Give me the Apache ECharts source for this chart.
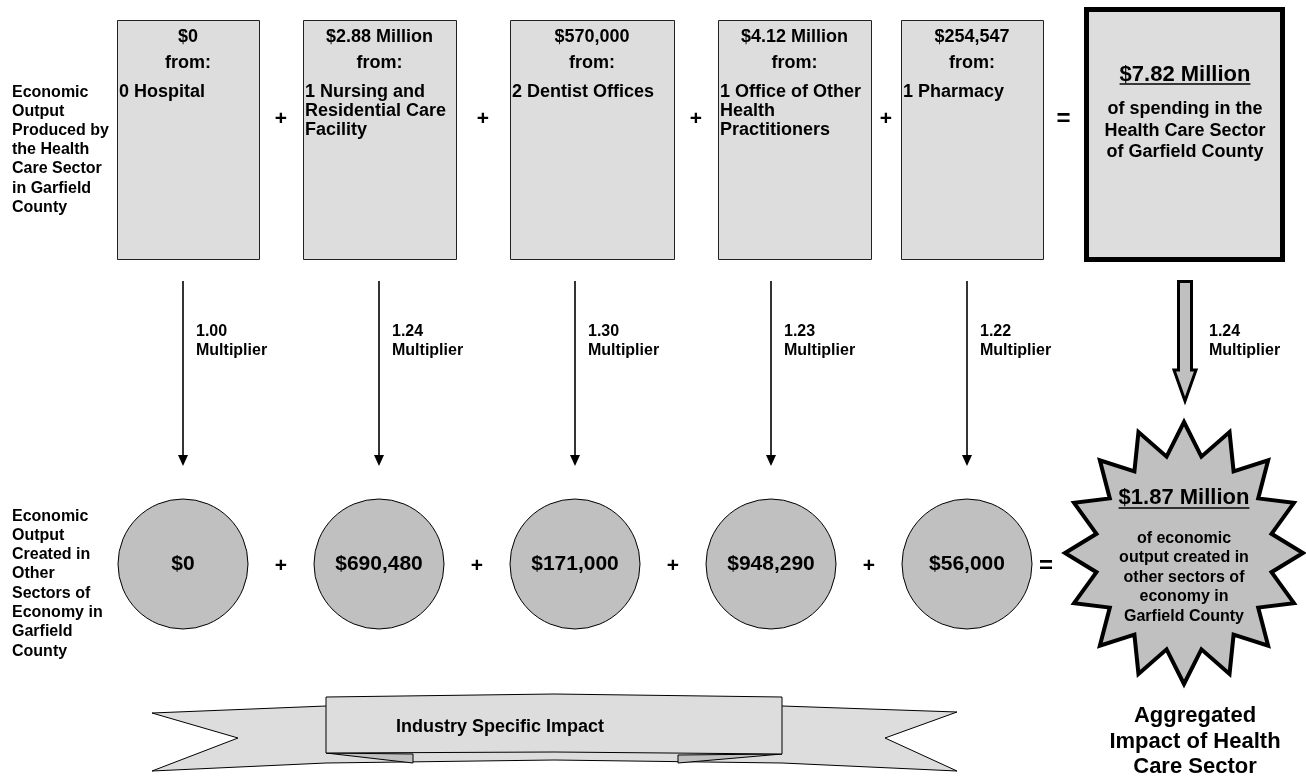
<!DOCTYPE html>
<html>
<head>
<meta charset="utf-8">
<script src="https://cdn.jsdelivr.net/npm/echarts@6/dist/echarts.min.js"></script>
<style>
  html, body { margin: 0; padding: 0; background: #fff; }
  #chart { width: 1306px; height: 776px; }
</style>
</head>
<body>
<div id="chart"></div>
<script>
// data
const sectors = ['0 Hospital', '1 Nursing and\nResidential Care\nFacility', '2 Dentist Offices', '1 Office of Other\nHealth\nPractitioners', '1 Pharmacy'];
const directOutput = ['$0', '$2.88 Million', '$570,000', '$4.12 Million', '$254,547'];
const multipliers = ['1.00', '1.24', '1.30', '1.23', '1.22'];
const createdOutput = ['$0', '$690,480', '$171,000', '$948,290', '$56,000'];
const totalOutput = '$7.82 Million';
const totalMultiplier = '1.24';
const totalCreated = '$1.87 Million';

// layout of the boxes (offset of left edge from column centre, width)
const boxOffset = [-66, -76, -65, -53, -66];
const boxWidth = [142, 153, 164, 153, 142];

const FF = '"Liberation Sans", Arial, sans-serif';
const f = (size) => 'bold ' + size + 'px ' + FF;
const BOX_FILL = '#dddddd';
const DARK_FILL = '#c0c0c0';

const measure = (() => {
  const ctx = document.createElement('canvas').getContext('2d');
  return (text, font) => { ctx.font = font; return ctx.measureText(text).width; };
})();

const chart = echarts.init(document.getElementById('chart'));

// total column
const TX = 1184;
const starCy = 553, starRx = 119, starRy = 131, starInner = 0.75;
const starPts = [];
for (let k = 0; k < 32; k++) {
  const a = Math.PI * k / 16;
  const r = k % 2 === 0 ? 1 : starInner;
  starPts.push([TX + starRx * r * Math.sin(a), starCy - starRy * r * Math.cos(a)]);
}

function underline(cx, y, text, font) {
  const w = measure(text, font);
  return { type: 'line', shape: { x1: cx - w / 2, y1: y, x2: cx + w / 2, y2: y }, style: { stroke: '#000', lineWidth: 1.5 } };
}

const graphics = [
  { type: 'text', style: { text: 'Economic\nOutput\nProduced by\nthe Health\nCare Sector\nin Garfield\nCounty', x: 12, y: 82.5, font: f(16), lineHeight: 19.2, fill: '#000', verticalAlign: 'top' } },
  { type: 'text', style: { text: 'Economic\nOutput\nCreated in\nOther\nSectors of\nEconomy in\nGarfield\nCounty', x: 12, y: 506.5, font: f(16), lineHeight: 19.3, fill: '#000', verticalAlign: 'top' } },
  // total box
  { type: 'rect', shape: { x: 1086.5, y: 9.5, width: 196, height: 250 }, style: { fill: BOX_FILL, stroke: '#000', lineWidth: 5 } },
  { type: 'text', style: { text: totalOutput, x: 1185, y: 75, font: f(22), fill: '#000', align: 'center', verticalAlign: 'middle' } },
  underline(1185, 84, totalOutput, f(22)),
  { type: 'text', style: { text: 'of spending in the\nHealth Care Sector\nof Garfield County', x: 1185, y: 98.5, font: f(18), lineHeight: 21.5, fill: '#000', align: 'center', verticalAlign: 'top' } },
  // big arrow
  { type: 'polygon', shape: { points: [[1178.5, 281.5], [1191.5, 281.5], [1191.5, 370], [1196, 370], [1185, 401], [1174, 370], [1178.5, 370]] }, style: { fill: DARK_FILL, stroke: '#000', lineWidth: 3, lineJoin: 'miter' } },
  { type: 'text', style: { text: totalMultiplier + '\nMultiplier', x: 1209, y: 322.5, font: f(16), lineHeight: 19, fill: '#000', verticalAlign: 'top' } },
  // starburst
  { type: 'polygon', shape: { points: starPts }, style: { fill: DARK_FILL, stroke: '#000', lineWidth: 4, lineJoin: 'miter', miterLimit: 10 } },
  { type: 'text', style: { text: totalCreated, x: TX, y: 498, font: f(22), fill: '#000', align: 'center', verticalAlign: 'middle' } },
  underline(TX, 508, totalCreated, f(22)),
  { type: 'text', style: { text: 'of economic\noutput created in\nother sectors of\neconomy in\nGarfield County', x: TX, y: 528.5, font: f(16), lineHeight: 19.5, fill: '#000', align: 'center', verticalAlign: 'top' } },
  { type: 'text', style: { text: 'Aggregated\nImpact of Health\nCare Sector', x: 1195, y: 703.5, font: f(22), lineHeight: 25.5, fill: '#000', align: 'center', verticalAlign: 'top' } },
  // banner
  { type: 'polygon', shape: { points: [[152, 713], [326, 706], [554, 703], [782, 706], [957, 712], [885, 738], [957, 771], [782, 763], [554, 760], [326, 763], [152, 771], [238, 738]] }, style: { fill: BOX_FILL, stroke: '#000', lineWidth: 1 } },
  { type: 'polygon', shape: { points: [[326, 753], [413, 754], [413, 763]] }, style: { fill: DARK_FILL, stroke: '#000', lineWidth: 1 } },
  { type: 'polygon', shape: { points: [[782, 754], [678, 755], [678, 763]] }, style: { fill: DARK_FILL, stroke: '#000', lineWidth: 1 } },
  { type: 'polygon', shape: { points: [[326, 697], [554, 694], [782, 697], [782, 754], [554, 752], [326, 753]] }, style: { fill: BOX_FILL, stroke: '#000', lineWidth: 1 } },
  { type: 'text', style: { text: 'Industry Specific Impact', x: 500, y: 727, font: f(18), fill: '#000', align: 'center', verticalAlign: 'middle' } }
];

function renderSector(params, api) {
  const i = api.value(0);
  const cx = api.coord([i, 0])[0];
  const left = cx + boxOffset[i];
  const w = boxWidth[i];
  const bc = left + w / 2;
  const children = [
    { type: 'rect', shape: { x: left + 0.5, y: 20.5, width: w, height: 239 }, style: { fill: BOX_FILL, stroke: '#222', lineWidth: 1 } },
    { type: 'text', style: { text: directOutput[i], x: bc, y: 37, font: f(18), fill: '#000', align: 'center', verticalAlign: 'middle' } },
    { type: 'text', style: { text: 'from:', x: bc, y: 63, font: f(18), fill: '#000', align: 'center', verticalAlign: 'middle' } },
    { type: 'text', style: { text: sectors[i], x: left + 2, y: 82.5, font: f(18), lineHeight: 19, fill: '#000', verticalAlign: 'top' } },
    { type: 'line', shape: { x1: cx, y1: 281, x2: cx, y2: 456 }, style: { stroke: '#000', lineWidth: 1.6 } },
    { type: 'polygon', shape: { points: [[cx - 5, 455], [cx + 5, 455], [cx, 466]] }, style: { fill: '#000' } },
    { type: 'text', style: { text: multipliers[i] + '\nMultiplier', x: cx + 13, y: 322.5, font: f(16), lineHeight: 19, fill: '#000', verticalAlign: 'top' } },
    { type: 'circle', shape: { cx: cx, cy: 564, r: 65 }, style: { fill: DARK_FILL, stroke: '#000', lineWidth: 1 } },
    { type: 'text', style: { text: createdOutput[i], x: cx, y: 564, font: f(21), fill: '#000', align: 'center', verticalAlign: 'middle' } }
  ];
  // operators to the right
  let topMid, botMid, sym;
  if (i < sectors.length - 1) {
    const nextCx = api.coord([i + 1, 0])[0];
    topMid = (left + w + nextCx + boxOffset[i + 1]) / 2;
    botMid = (cx + nextCx) / 2;
    sym = '+';
  } else {
    topMid = (left + w + 1084) / 2;
    botMid = (cx + 65 + TX - starRx - 5) / 2;
    sym = '=';
  }
  const opFont = sym === '+' ? f(21) : f(24);
  children.push({ type: 'text', style: { text: sym, x: topMid, y: 119, font: opFont, fill: '#000', align: 'center', verticalAlign: 'middle' } });
  children.push({ type: 'text', style: { text: sym, x: botMid, y: 566, font: opFont, fill: '#000', align: 'center', verticalAlign: 'middle' } });
  return { type: 'group', children: children };
}

chart.setOption({
  animation: false,
  grid: { left: 85, width: 980, top: 0, bottom: 0 },
  xAxis: { type: 'category', data: sectors.map((s, i) => i), show: false },
  yAxis: { type: 'value', min: 0, max: 1, show: false },
  graphic: graphics,
  series: [{
    type: 'custom',
    clip: false,
    data: sectors.map((s, i) => [i]),
    encode: { x: 0 },
    renderItem: renderSector
  }]
});
</script>
</body>
</html>
